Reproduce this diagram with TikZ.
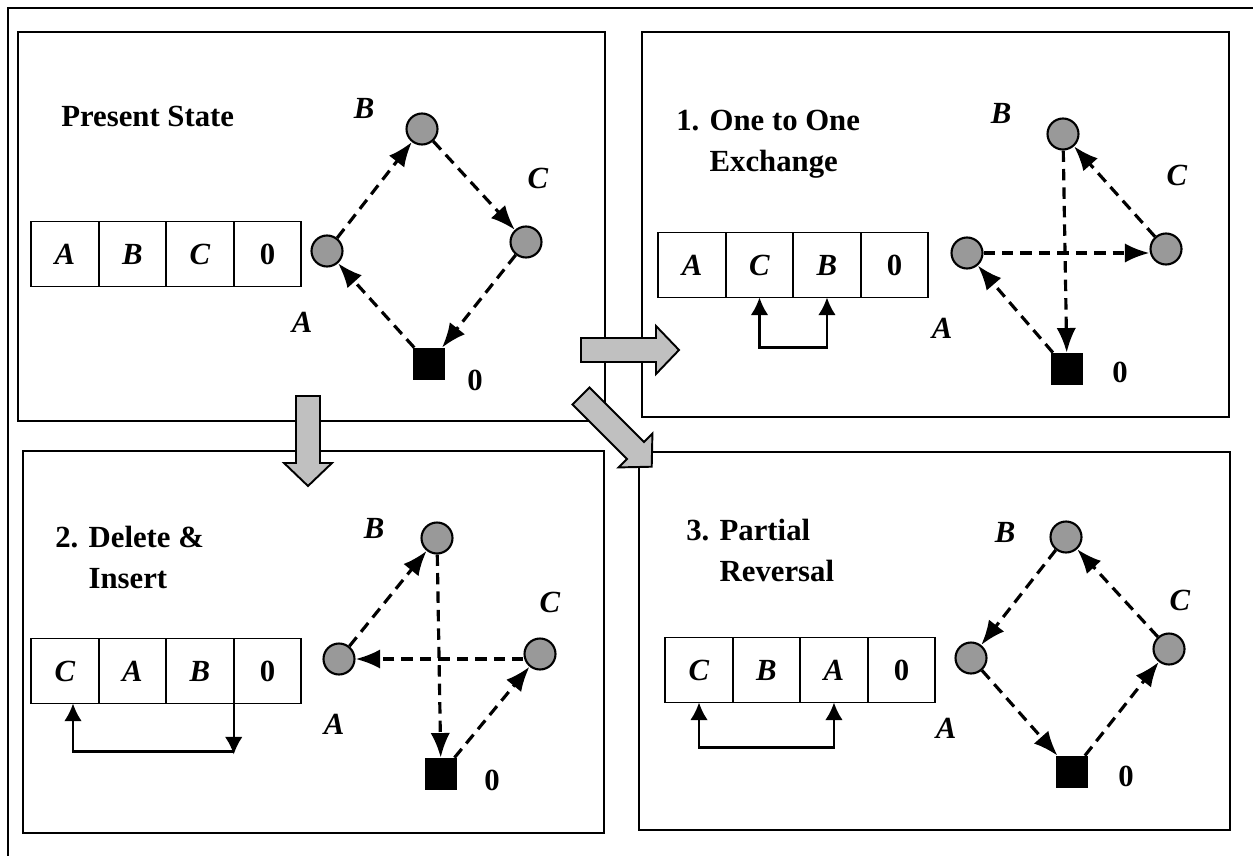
\documentclass[tikz,border=0pt]{standalone}
\usepackage{fontspec}
\setmainfont{Liberation Serif}
\usepackage{tikz}
\usetikzlibrary{arrows.meta, positioning, calc}

\definecolor{nodegray}{HTML}{999999}
\definecolor{arrowgray}{HTML}{C0C0C0}

\tikzset{
  frame/.style={line width=1.2pt},
  panel/.style={line width=1.2pt},
  cell/.style={draw, line width=1.1pt, outer sep=0pt, minimum width=1.35cm, minimum height=1.3cm,
    font=\fontsize{17.5}{20}\selectfont\bfseries},
  city/.style={circle, draw, line width=1.2pt, fill=nodegray, minimum size=0.62cm, inner sep=0pt},
  depot/.style={rectangle, fill=black, minimum size=0.64cm, inner sep=0pt},
  lbl/.style={font=\fontsize{17.5}{20}\selectfont\bfseries},
  title/.style={inner sep=0pt, align=left, anchor=north west, font=\fontsize{17.5}{23.3}\selectfont\bfseries},
  route/.style={dashed, dash pattern=on 6.5pt off 4pt, line width=1.8pt, -{Latex[length=14pt, width=11pt]}},
  swapline/.style={line width=1.3pt, >={Latex[length=10pt, width=10pt]}},
  blockarr/.style={draw, line width=1.1pt, fill=arrowgray, line join=miter},
}

% grey block arrow: x, y, angle, length
\newcommand{\blockarrow}[4]{%
  \draw[blockarr, shift={(#1,#2)}, rotate=#3]
    (0,12) -- ({#4-23},12) -- ({#4-23},24) -- (#4,0) -- ({#4-23},-24) -- ({#4-23},-12) -- (0,-12) -- cycle;}

\begin{document}
\begin{tikzpicture}[x=0.02cm, y=-0.02cm]
  \useasboundingbox (0,0) rectangle (1253,855);

  \draw[frame] (8,880) -- (8,8) -- (1280,8);

  % panels
  \draw[panel] (18,32) rectangle (605,421);
  \draw[panel] (642,32) rectangle (1229,417);
  \draw[panel] (23,451) rectangle (604,833);
  \draw[panel] (639,452) rectangle (1230,830);

  %% present state
  \node[title, anchor=base west] (t1) at (61,126) {Present State};

  \node[cell] (p1c1) at (65,254) {\textit{A}};
  \node[cell, right=0pt of p1c1] (p1c2) {\textit{B}};
  \node[cell, right=0pt of p1c2] (p1c3) {\textit{C}};
  \node[cell, right=0pt of p1c3] (p1c4) {0};

  \node[city] (p1a) at (327,251) {};
  \node[city] (p1b) at (422,129) {};
  \node[city] (p1c) at (526,242) {};
  \node[depot] (p1o) at (429,364) {};

  \node[lbl] (p1la) at (302,322) {\textit{A}};
  \node[lbl] (p1lb) at (364,108) {\textit{B}};
  \node[lbl] (p1lc) at (538,178) {\textit{C}};
  \node[lbl] (p1lo) at (475,380) {0};

  \draw[route] (p1a) -- (p1b);
  \draw[route] (p1b) -- (p1c);
  \draw[route] (p1c) -- (p1o);
  \draw[route] (p1o) -- (p1a);

  %% 1. one to one exchange
  \node[title] (t2) at (676,110) {1. One to One\\\hphantom{1. }Exchange};

  \node[cell] (p2c1) at (692,265) {\textit{A}};
  \node[cell, right=0pt of p2c1] (p2c2) {\textit{C}};
  \node[cell, right=0pt of p2c2] (p2c3) {\textit{B}};
  \node[cell, right=0pt of p2c3] (p2c4) {0};

  \coordinate (p2s1) at ($(p2c2.south)+(0,50)$);
  \coordinate (p2s2) at ($(p2c3.south)+(0,50)$);
  \draw[swapline, <->] (p2c2.south) -- (p2s1) -- (p2s2) -- (p2c3.south);

  \node[city] (p2a) at (967,253) {};
  \node[city] (p2b) at (1063,134) {};
  \node[city] (p2c) at (1166,249) {};
  \node[depot] (p2o) at (1067,369) {};

  \node[lbl] (p2la) at (942,328) {\textit{A}};
  \node[lbl] (p2lb) at (1001,113) {\textit{B}};
  \node[lbl] (p2lc) at (1177,175) {\textit{C}};
  \node[lbl] (p2lo) at (1120,372) {0};

  \draw[route] (p2b) -- (p2o);
  \draw[route] (p2a.east) -- (p2a.east -| p2c.west);
  \draw[route] (p2c) -- (p2b);
  \draw[route] (p2o) -- (p2a);

  %% 2. delete & insert
  \node[title] (t3) at (55,526) {2. Delete \&\\\hphantom{2. }Insert};

  \node[cell] (p3c1) at (65,671) {\textit{C}};
  \node[cell, right=0pt of p3c1] (p3c2) {\textit{A}};
  \node[cell, right=0pt of p3c2] (p3c3) {\textit{B}};
  \node[cell, right=0pt of p3c3] (p3c4) {0};

  \coordinate (p3s1) at ($(p3c1.south)+(8,48)$);
  \coordinate (p3s2) at ($(p3c3.south east)+(0,48)$);
  \draw[swapline, <-] ($(p3c1.south)+(8,0)$) -- (p3s1) -- (p3s2);
  \draw[swapline, ->] (p3c3.south east) -- ($(p3s2)+(0,3)$);

  \node[city] (p3a) at (339,659) {};
  \node[city] (p3b) at (437,538) {};
  \node[city] (p3c) at (540,654) {};
  \node[depot] (p3o) at (441,774) {};

  \node[lbl] (p3la) at (334,724) {\textit{A}};
  \node[lbl] (p3lb) at (374,528) {\textit{B}};
  \node[lbl] (p3lc) at (550,602) {\textit{C}};
  \node[lbl] (p3lo) at (492,780) {0};

  \draw[route] (p3a) -- (p3b);
  \draw[route] (p3b) -- (p3o);
  \draw[route] (p3c.west |- p3a.east) -- (p3a.east);
  \draw[route] (p3o) -- (p3c);

  %% 3. partial reversal
  \node[title] (t4) at (686,519) {3. Partial\\\hphantom{3. }Reversal};

  \node[cell] (p4c1) at (699,670) {\textit{C}};
  \node[cell, right=0pt of p4c1] (p4c2) {\textit{B}};
  \node[cell, right=0pt of p4c2] (p4c3) {\textit{A}};
  \node[cell, right=0pt of p4c3] (p4c4) {0};

  \coordinate (p4s1) at ($(p4c1.south)+(0,45)$);
  \coordinate (p4s2) at ($(p4c3.south)+(0,45)$);
  \draw[swapline, <->] (p4c1.south) -- (p4s1) -- (p4s2) -- (p4c3.south);

  \node[city] (p4a) at (971,658) {};
  \node[city] (p4b) at (1066,537) {};
  \node[city] (p4c) at (1169,649) {};
  \node[depot] (p4o) at (1072,772) {};

  \node[lbl] (p4la) at (946,728) {\textit{A}};
  \node[lbl] (p4lb) at (1005,532) {\textit{B}};
  \node[lbl] (p4lc) at (1180,600) {\textit{C}};
  \node[lbl] (p4lo) at (1126,776) {0};

  \draw[route] (p4b) -- (p4a);
  \draw[route] (p4a) -- (p4o);
  \draw[route] (p4o) -- (p4c);
  \draw[route] (p4c) -- (p4b);

  % grey arrows between panels
  \blockarrow{581}{350}{0}{98}
  \blockarrow{308}{396}{-90}{90}
  \blockarrow{581}{396}{-45}{100}
\end{tikzpicture}
\end{document}
